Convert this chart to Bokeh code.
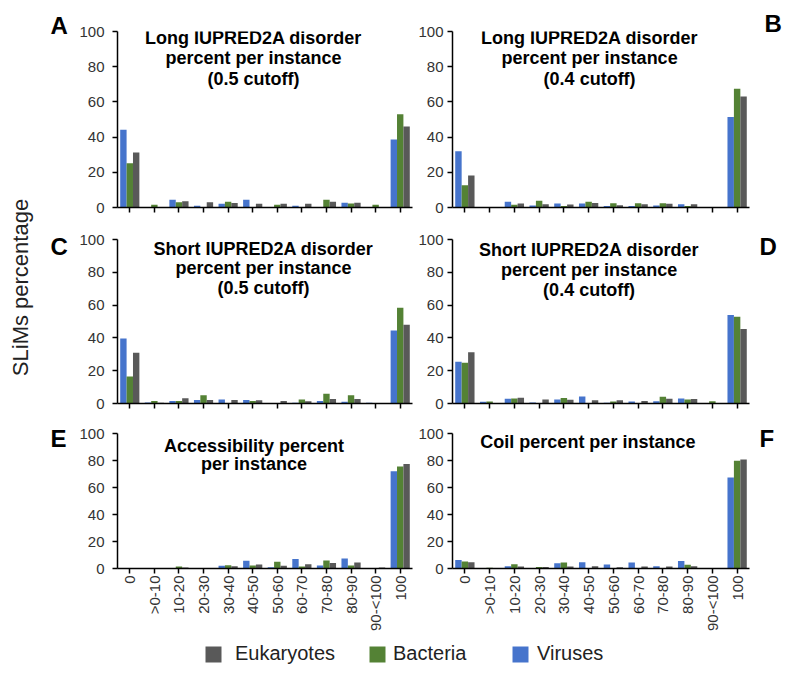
from math import pi
from bokeh.plotting import figure
from bokeh.layouts import column, row
from bokeh.models import (ColumnDataSource, FactorRange, Range1d, Label, Legend,
                          LegendItem, FixedTicker)
from bokeh.transform import dodge
from bokeh.embed import file_html
from bokeh.resources import INLINE

# ---------------- data ----------------
categories = ["0", ">0-10", "10-20", "20-30", "30-40", "40-50", "50-60",
              "60-70", "70-80", "80-90", "90-<100", "100"]
y_ticks = [0, 20, 40, 60, 80, 100]
series_names = ["Viruses", "Bacteria", "Eukaryotes"]
legend_order = ["Eukaryotes", "Bacteria", "Viruses"]
y_axis_title = "SLiMs percentage"

# A: Long IUPRED2A disorder (0.5 cutoff)
a_viruses = [44.2, 0, 4.4, 1.0, 2.1, 4.4, 0, 1.0, 0, 2.7, 0, 38.7]
a_bacteria = [25.1, 1.5, 3.0, 0, 3.2, 0.3, 1.5, 0.3, 4.4, 2.3, 1.5, 53.0]
a_eukaryotes = [31.2, 0, 3.6, 3.0, 2.5, 2.1, 2.1, 2.1, 3.2, 2.7, 0, 46.0]
# B: Long IUPRED2A disorder (0.4 cutoff)
b_viruses = [31.9, 0, 3.2, 1.1, 2.3, 2.3, 0.9, 0.8, 1.1, 1.9, 0, 51.4]
b_bacteria = [12.6, 0, 1.5, 3.9, 0.8, 3.2, 2.4, 2.4, 2.4, 0.8, 0, 67.5]
b_eukaryotes = [18.2, 0, 2.3, 1.9, 1.7, 2.6, 1.3, 1.9, 2.1, 1.9, 0, 63.0]
# C: Short IUPRED2A disorder (0.5 cutoff)
c_viruses = [39.6, 0.6, 1.6, 2.2, 2.4, 2.2, 0, 0.4, 1.6, 1.0, 0.4, 44.5]
c_bacteria = [16.4, 1.6, 1.6, 5.0, 0.3, 1.6, 0, 2.4, 6.0, 5.0, 0, 58.4]
c_eukaryotes = [31.0, 0.4, 3.2, 2.2, 2.2, 2.0, 1.6, 1.4, 2.8, 2.8, 0, 48.0]
# D: Short IUPRED2A disorder (0.4 cutoff)
d_viruses = [25.5, 1.0, 2.9, 0.6, 2.5, 4.3, 0.4, 1.2, 1.4, 3.1, 0, 53.9]
d_bacteria = [24.9, 1.2, 3.1, 0.2, 3.3, 0, 1.2, 0.2, 4.1, 2.5, 1.4, 52.9]
d_eukaryotes = [31.2, 0, 3.5, 2.5, 2.3, 2.0, 2.0, 1.6, 2.9, 2.7, 0, 45.5]
# E: Accessibility percent per instance
e_viruses = [0, 0, 0, 0, 2.0, 5.7, 1.0, 7.0, 2.2, 7.5, 0, 72.0]
e_bacteria = [0, 0, 1.5, 0, 2.5, 2.2, 5.0, 1.5, 6.0, 2.2, 0, 75.5]
e_eukaryotes = [0, 0, 0.7, 0, 1.7, 3.0, 2.0, 3.2, 4.0, 4.5, 0.7, 77.4]
# F: Coil percent per instance
f_viruses = [6.3, 0, 1.7, 0, 3.9, 4.6, 2.9, 4.4, 1.7, 5.6, 0, 67.4]
f_bacteria = [5.1, 0.5, 3.2, 1.2, 4.4, 0.3, 0, 0.3, 0.3, 2.7, 0, 79.8]
f_eukaryotes = [4.6, 0, 1.5, 1.2, 1.5, 1.7, 1.0, 1.5, 1.5, 1.7, 0, 80.8]

title_a = ["Long IUPRED2A disorder", "percent per instance", "(0.5 cutoff)"]
title_b = ["Long IUPRED2A disorder", "percent per instance", "(0.4 cutoff)"]
title_c = ["Short IUPRED2A disorder", "percent per instance", "(0.5 cutoff)"]
title_d = ["Short IUPRED2A disorder", "percent per instance", "(0.4 cutoff)"]
title_e = ["Accessibility percent", "per instance"]
title_f = ["Coil percent per instance"]
letters_left = ["A", "C", "E"]
letters_right = ["B", "D", "F"]

# ---------------- style ----------------
FONT = "Liberation Sans"
COLORS = {"Viruses": "#4674CC", "Bacteria": "#548235", "Eukaryotes": "#595959"}
OFFSETS = {"Viruses": -0.26, "Bacteria": 0.0, "Eukaryotes": 0.26}
BAR_W = 0.26
TICK_COLOR = "#333333"


def panel(vals, width, height, borders, show_labels, standoff, title, title_x, title_ys):
    bl, br, bt, bb = borders
    p = figure(x_range=FactorRange(factors=categories, range_padding=0),
               y_range=Range1d(0, 100), width=width, height=height,
               output_backend="svg", toolbar_location=None,
               min_border_left=bl, min_border_right=br,
               min_border_top=bt, min_border_bottom=bb)
    data = {"cat": categories}
    for n, v in zip(series_names, vals):
        data[n] = v
    src = ColumnDataSource(data)
    for n in series_names:
        p.vbar(x=dodge("cat", OFFSETS[n], range=p.x_range), top=n, width=BAR_W,
               source=src, fill_color=COLORS[n], line_color=None)
    p.outline_line_color = None
    p.xgrid.visible = False
    p.ygrid.visible = False
    for ax in p.axis:
        ax.axis_line_color = "black"
        ax.axis_line_width = 1.5
        ax.major_tick_line_color = "black"
        ax.major_tick_line_width = 1.5
        ax.major_tick_in = 0
        ax.major_tick_out = 5
        ax.minor_tick_line_color = None
        ax.major_label_text_font = FONT
        ax.major_label_text_font_size = "15px"
        ax.major_label_text_color = TICK_COLOR
    p.yaxis.ticker = FixedTicker(ticks=y_ticks)
    p.yaxis.major_label_standoff = standoff
    if show_labels:
        p.xaxis.major_label_orientation = pi / 2
        p.xaxis.major_label_standoff = 2
    else:
        p.xaxis.major_label_text_font_size = "0px"
        p.xaxis.major_label_text_color = None
        p.xaxis.major_label_standoff = 0
    for line, ty in zip(title, title_ys):
        p.add_layout(Label(x=title_x, y=ty, text=line, text_font=FONT,
                           text_font_style="bold", text_font_size="18px",
                           text_color="black", text_align="center",
                           text_baseline="alphabetic"))
    return p


LW, RW = 337, 339
L_B = (40, 1)
R_B = (39, 3)
R1 = (219, 31, 12)
R2 = (198, 20, 14)
R3 = (221, 16, 70)

pA = panel([a_viruses, a_bacteria, a_eukaryotes], LW, R1[0], (L_B[0], L_B[1], R1[1], R1[2]),
           False, 8, title_a, 5.53, [96.1, 84.7, 72.8])
pB = panel([b_viruses, b_bacteria, b_eukaryotes], RW, R1[0], (R_B[0], R_B[1], R1[1], R1[2]),
           False, 4, title_b, 5.54, [96.1, 85.0, 72.8])
pC = panel([c_viruses, c_bacteria, c_eukaryotes], LW, R2[0], (L_B[0], L_B[1], R2[1], R2[2]),
           False, 8, title_c, 5.94, [94.5, 82.6, 70.7])
pD = panel([d_viruses, d_bacteria, d_eukaryotes], RW, R2[0], (R_B[0], R_B[1], R2[1], R2[2]),
           False, 4, title_d, 5.52, [93.3, 81.7, 69.5])
pE = panel([e_viruses, e_bacteria, e_eukaryotes], LW, R3[0], (L_B[0], L_B[1], R3[1], R3[2]),
           True, 8, title_e, 5.55, [91.1, 77.1])
pF = panel([f_viruses, f_bacteria, f_eukaryotes], RW, R3[0], (R_B[0], R_B[1], R3[1], R3[2]),
           True, 4, title_f, 5.47, [93.4])

grid_h = R1[0] + R2[0] + R3[0]


def blank(width, height):
    f = figure(width=width, height=height, x_range=Range1d(0, width),
               y_range=Range1d(0, height), output_backend="svg",
               toolbar_location=None, x_axis_type=None, y_axis_type=None,
               min_border=0, min_border_left=0, min_border_right=0,
               min_border_top=0, min_border_bottom=0)
    f.outline_line_color = None
    f.xgrid.visible = False
    f.ygrid.visible = False
    return f


# y-axis title
yt = blank(40, grid_h)
yt.add_layout(Label(x=20, y=grid_h - 287, text=y_axis_title, angle=pi / 2,
                    text_font=FONT, text_font_size="22px", text_color="#222222",
                    text_align="center", text_baseline="middle"))

# panel letters (left column and right column)
letL = blank(36, grid_h)
for t, (lx, ly) in zip(letters_left, [(10, grid_h - 25), (10, grid_h - 246), (10, grid_h - 438)]):
    letL.add_layout(Label(x=lx, y=ly, text=t, text_font=FONT, text_font_style="bold",
                          text_font_size="24px", text_color="black",
                          text_align="left", text_baseline="alphabetic"))
letR = blank(38, grid_h)
for t, (lx, ly) in zip(letters_right, [(12, grid_h - 23), (7, grid_h - 246), (7, grid_h - 438)]):
    letR.add_layout(Label(x=lx, y=ly, text=t, text_font=FONT, text_font_style="bold",
                          text_font_size="24px", text_color="black",
                          text_align="left", text_baseline="alphabetic"))

# legend
lg = blank(790, 34)
legend_x = {"Eukaryotes": 203, "Bacteria": 367, "Viruses": 510}
legend_standoff = {"Eukaryotes": 12, "Bacteria": 6, "Viruses": 7}
for n in legend_order:
    # swatch-only renderer: its single point lies far outside the visible range
    r = lg.vbar(x=[-5000], bottom=[-5000], top=[-4999], width=1,
                fill_color=COLORS[n], line_color=None)
    leg = Legend(items=[LegendItem(label=n, renderers=[r])], location=(legend_x[n], 7),
                 orientation="horizontal", glyph_width=20, glyph_height=20,
                 label_standoff=legend_standoff[n], label_text_font=FONT,
                 label_text_font_size="20px", label_text_color="#222222",
                 padding=0, margin=0, border_line_color=None,
                 background_fill_alpha=0, label_height=20)
    lg.add_layout(leg)

grid = column(row(pA, pB), row(pC, pD), row(pE, pF))
layout = column(row(yt, letL, grid, letR), lg)

open("out.html", "w").write(file_html(layout, INLINE))
